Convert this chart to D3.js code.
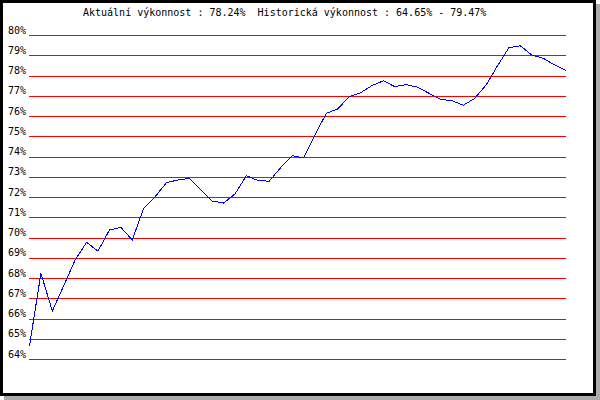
<!DOCTYPE html>
<html>
<head>
<meta charset="utf-8">
<script src="https://cdn.jsdelivr.net/npm/d3@7"></script>
<style>
  body { margin: 0; background: #fff; }
  text { font-family: "DejaVu Sans Mono", monospace; font-size: 10px; fill: #000; }
</style>
</head>
<body>
<div id="chart"></div>
<script>
// chart data
var titleText = "Aktuální výkonnost : 78.24%  Historická výkonnost : 64.65% - 79.47%";
var yTicks = [64, 65, 66, 67, 68, 69, 70, 71, 72, 73, 74, 75, 76, 77, 78, 79, 80];
var performance = [
  64.65, 68.23, 66.37, 67.62, 68.89, 69.76, 69.33, 70.37, 70.50, 69.88,
  71.44, 72.01, 72.71, 72.84, 72.92, 72.35, 71.80, 71.70, 72.15, 73.05,
  72.82, 72.78, 73.45, 74.04, 73.93, 75.06, 76.13, 76.35, 76.95, 77.15,
  77.50, 77.74, 77.45, 77.55, 77.42, 77.12, 76.82, 76.76, 76.53, 76.87,
  77.53, 78.48, 79.37, 79.47, 79.01, 78.85, 78.52, 78.24
];

var width = 600, height = 400;
var svg = d3.select("#chart").append("svg")
  .attr("width", width)
  .attr("height", height);

// drop shadow + frame
svg.append("rect")
  .attr("x", 4).attr("y", 4)
  .attr("width", 596).attr("height", 396)
  .attr("fill", "#aaaaaa");
svg.append("rect")
  .attr("x", 1.5).attr("y", 1.5)
  .attr("width", 593).attr("height", 393)
  .attr("fill", "#fff")
  .attr("stroke", "#000")
  .attr("stroke-width", 3);

var plotLeft = 29, plotRight = 566;

var x = d3.scaleLinear()
  .domain([0, performance.length - 1])
  .range([plotLeft + 0.5, plotRight]);

var y = d3.scaleLinear()
  .domain([64, 80])
  .range([359, 35]);

// title
svg.append("text")
  .attr("x", 83)
  .attr("y", 16)
  .attr("xml:space", "preserve")
  .style("white-space", "pre")
  .text(titleText);

// y-axis with red gridlines
var yAxis = svg.append("g")
  .attr("transform", "translate(" + plotLeft + ",0)")
  .call(d3.axisLeft(y)
    .tickValues(yTicks)
    .tickFormat(function(d) { return d + "%"; })
    .tickSize(-(plotRight - plotLeft))
    .tickPadding(3));
yAxis.select(".domain").remove();
yAxis.selectAll("line")
  .attr("stroke", "#ff0000")
  .attr("shape-rendering", "crispEdges");
yAxis.selectAll("text")
  .attr("font-family", "DejaVu Sans Mono, monospace")
  .attr("font-size", 10)
  .attr("fill", "#000")
  .attr("dy", "-0.2em");

// performance line
var line = d3.line()
  .x(function(d, i) { return x(i); })
  .y(function(d) { return y(d); });

svg.append("path")
  .datum(performance)
  .attr("d", line)
  .attr("fill", "none")
  .attr("stroke", "#0000ff")
  .attr("stroke-width", 1)
  .attr("shape-rendering", "crispEdges");
</script>
</body>
</html>
